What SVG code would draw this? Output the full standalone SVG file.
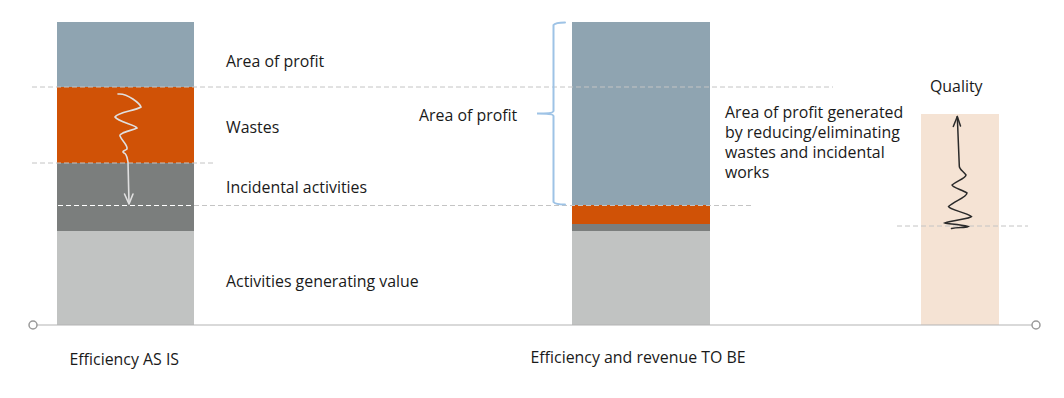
<svg xmlns="http://www.w3.org/2000/svg" width="1064" height="398" viewBox="0 0 1064 398">
<style>
text{font-family:"Open Sans","Noto Sans","Liberation Sans",sans-serif;font-size:15.9px;fill:#1a1a1a}
.dash{stroke:#c4c4c4;stroke-width:1;stroke-dasharray:5 3;fill:none}
.wdash{stroke:#ffffff;stroke-width:1;stroke-dasharray:5 3;fill:none}
.profit{fill:#8fa4b1}.waste{fill:#d05206}.incid{fill:#7b7e7d}.value{fill:#c1c3c2}
</style>
<rect width="1064" height="398" fill="#ffffff"/>
<g id="bar-as-is">
<rect class="profit" x="57" y="22" width="137" height="65"/>
<rect class="waste" x="57" y="87" width="137" height="76"/>
<rect class="incid" x="57" y="163" width="137" height="68"/>
<rect class="value" x="57" y="231" width="137" height="94"/>
</g>
<g id="bar-to-be">
<rect class="profit" x="572" y="22" width="138" height="183"/>
<rect class="waste" x="572" y="205" width="138" height="19"/>
<rect class="incid" x="572" y="224" width="138" height="7"/>
<rect class="value" x="572" y="231" width="138" height="94"/>
</g>
<g id="bar-quality">
<rect x="921" y="114" width="78" height="211" fill="#f5e3d4"/>
</g>
<g id="connectors">
<line class="dash" x1="32" y1="87" x2="833" y2="87"/>
<line class="dash" x1="32" y1="163" x2="216" y2="163"/>
<line class="wdash" x1="58" y1="205.5" x2="194" y2="205.5"/>
<line class="dash" x1="194" y1="205.5" x2="752" y2="205.5"/>
<line class="dash" x1="897" y1="226" x2="1028" y2="226"/>
<line x1="37" y1="325" x2="1032" y2="325" stroke="#b3b3b3" stroke-width="1.2"/>
<circle cx="33" cy="325" r="4" fill="#ffffff" stroke="#9a9a9a" stroke-width="1.5"/>
<circle cx="1036" cy="325" r="4" fill="#ffffff" stroke="#9a9a9a" stroke-width="1.5"/>
<path d="M118,94 C128,93 140,104 141,107 C135,111 118,112 115,117 C118,122 136,125 137,128 C130,131 119,133 120,136 C122,141 128,145 127,149 C125,151 121,151 124,153 C127,154 127,158 128,162 L129,203" fill="none" stroke="#e0e0e0" stroke-width="1.6" stroke-linecap="round"/>
<path d="M124.5,194 L129,204 L133,194" fill="none" stroke="#e0e0e0" stroke-width="1.6" stroke-linecap="round" stroke-linejoin="round"/>
<path d="M951.5,228.5 C958,227 965,228 968,226.5 C960,224 948,224 945,223 C952,220 970,219 971.5,216.5 C965,212 950,210 948.5,206.5 C955,201 967,197 967,193 C962,190 952,187 952,185 C957,181 966,178 966,175 C963,171 959,169 959.3,166 L957.3,116.5" fill="none" stroke="#2a2a2a" stroke-width="1.5" stroke-linecap="round"/>
<path d="M953.3,126.5 L957.3,116.5 L960.5,126" fill="none" stroke="#2a2a2a" stroke-width="1.5" stroke-linecap="round" stroke-linejoin="round"/>
<path d="M565,22.5 C560,22.5 555,23 553.5,25 L553.5,111 C553.5,113 545,113.5 537,113.5 C545,113.5 553.5,114 553.5,116 L553.5,202 C555,204 560,204.5 565,204.5" fill="none" stroke="#9ec3e6" stroke-width="2" stroke-linecap="round"/>
</g>
<g id="labels">
<text x="226" y="67">Area of profit</text>
<text x="226" y="133">Wastes</text>
<text x="226" y="193">Incidental activities</text>
<text x="226" y="287">Activities generating value</text>
<text x="419" y="121">Area of profit</text>
<text x="725" y="117.5">Area of profit generated</text>
<text x="725" y="137.5">by reducing/eliminating</text>
<text x="725" y="157.5">wastes and incidental</text>
<text x="725" y="177.5">works</text>
<text x="930" y="91.5">Quality</text>
<text x="69.5" y="365">Efficiency AS IS</text>
<text x="530.5" y="363">Efficiency and revenue TO BE</text>
</g>
</svg>
